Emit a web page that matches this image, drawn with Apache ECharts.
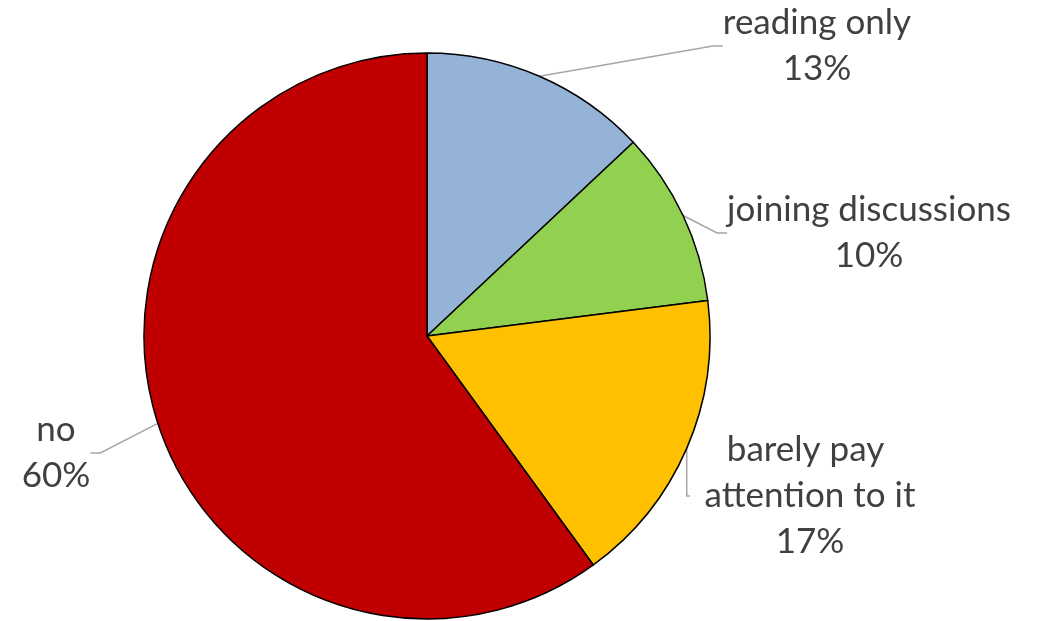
<!DOCTYPE html>
<html>
<head>
<meta charset="utf-8">
<style>
  html, body { margin: 0; padding: 0; background: #ffffff; }
  #chart { width: 1043px; height: 621px; }
</style>
<script src="https://cdn.jsdelivr.net/npm/echarts@6/dist/echarts.min.js"></script>
</head>
<body>
<div id="chart"></div>
<script>
// Share of respondents by how they engage with the topic
const categories = ['reading only', 'joining discussions', 'barely pay attention to it', 'no'];
const shares = [13, 10, 17, 60];
const sliceColors = ['#95B3D7', '#92D050', '#FFC000', '#C00000'];

// Where each label block sits (centre of the text block)
const labelSpots = [
  { x: 817, y: 46 },
  { x: 869, y: 233 },
  { x: 810, y: 496 },
  { x: 56, y: 453 }
];

const chart = echarts.init(document.getElementById('chart'));

chart.setOption({
  backgroundColor: '#ffffff',
  animation: false,
  series: [{
    type: 'pie',
    center: [427, 336],
    radius: 283,
    startAngle: 90,
    clockwise: true,
    data: categories.map((name, i) => ({
      name: name,
      value: shares[i],
      itemStyle: { color: sliceColors[i] },
      label: i === 2 ? { width: 240, overflow: 'break' } : {}
    })),
    itemStyle: { borderColor: '#000000', borderWidth: 1.5 },
    label: {
      show: true,
      position: 'outside',
      formatter: '{b}\n{d}%',
      fontFamily: 'Lato, "Open Sans", sans-serif',
      fontSize: 35,
      lineHeight: 46,
      color: '#404040',
      align: 'center'
    },
    labelLine: {
      show: true,
      length: 20,
      length2: 10,
      lineStyle: { color: '#A6A6A6', width: 1.5 }
    },
    labelLayout: function (params) {
      const s = labelSpots[params.dataIndex];
      return { x: s.x, y: s.y, align: 'center', verticalAlign: 'middle' };
    }
  }]
});
</script>
</body>
</html>
